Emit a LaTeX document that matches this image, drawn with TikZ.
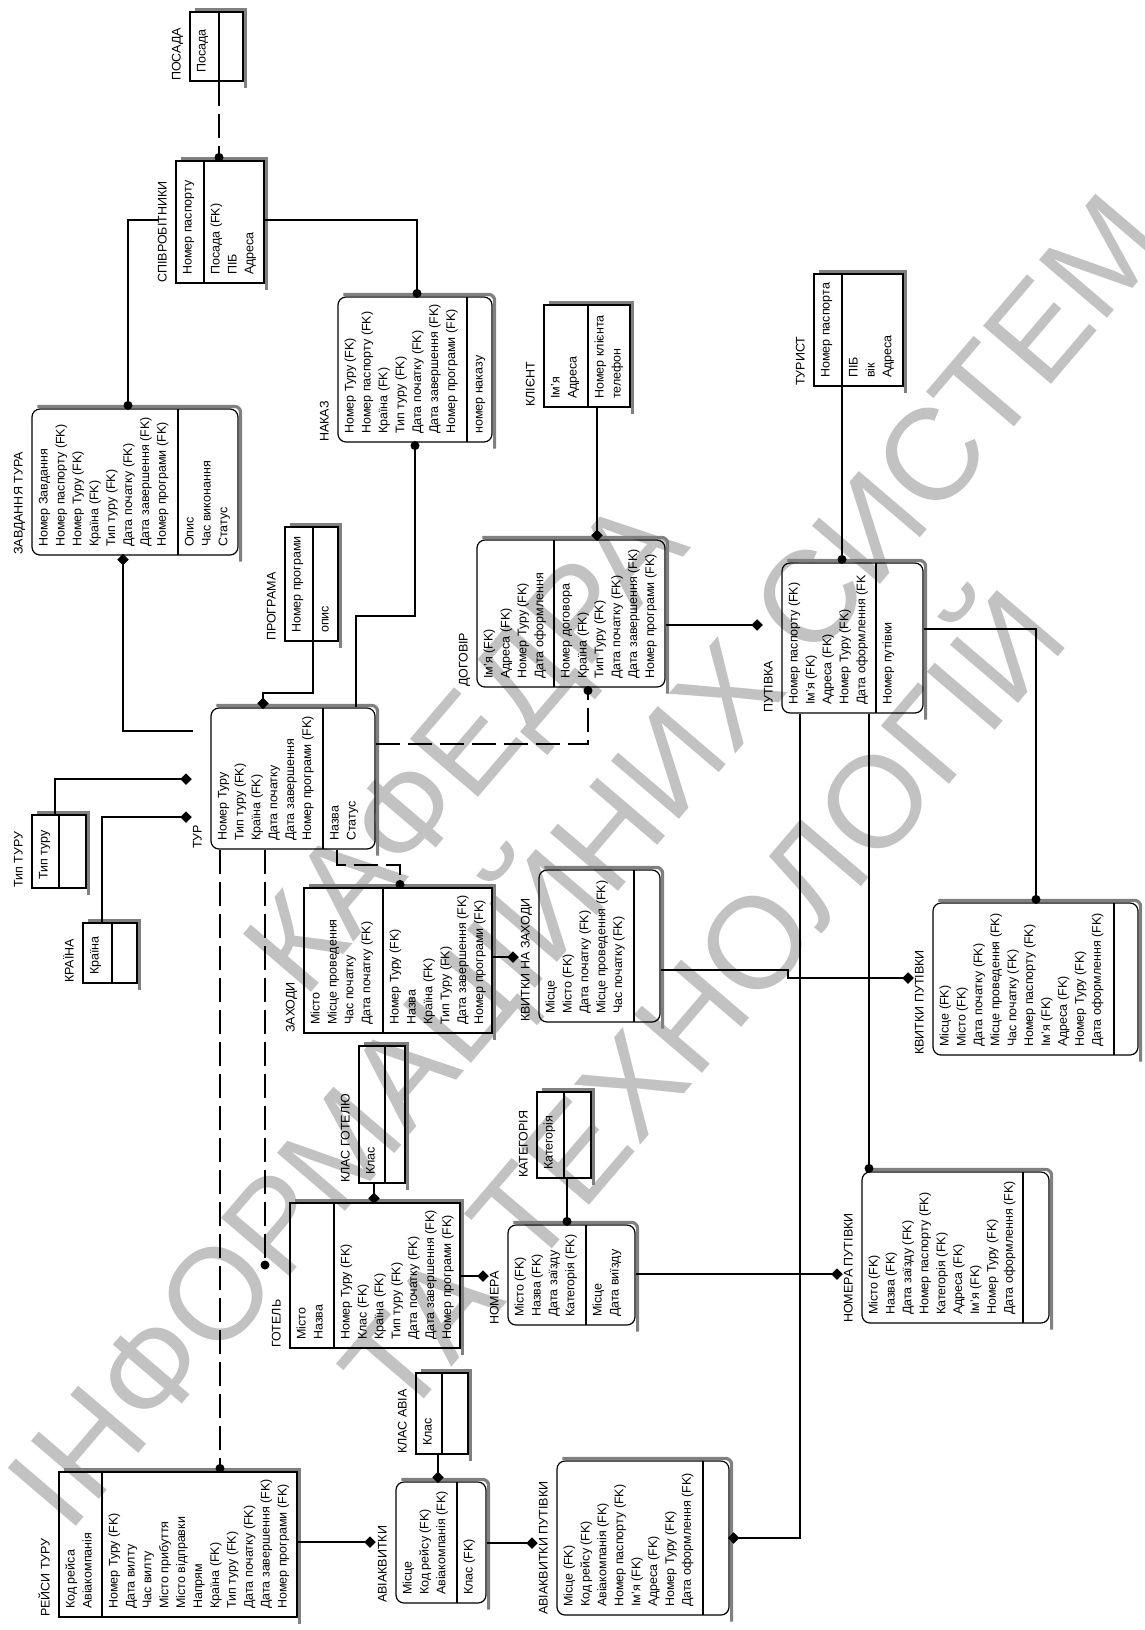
\documentclass[tikz,border=0pt]{standalone}
\usepackage{fontspec}
\setmainfont{Liberation Sans}
\usetikzlibrary{shapes.geometric,fit,calc}
\tikzset{
  boxline/.style={line width=1.2pt},
  sq/.style={draw, line width=1.2pt, inner sep=0pt, rectangle},
  rnd/.style={sq, rounded corners=8pt},
  sqs/.style={},
  rnds/.style={rounded corners=6pt},
  shad/.style={line width=3.2pt, draw=black!50},
  attr/.style={rotate=90, anchor=mid west, inner sep=0pt, font=\fontsize{12.5}{14}\selectfont},
  rel/.style={line width=1.2pt},
  nid/.style={rel, dash pattern=on 24pt off 8pt},
  dot/.style={circle, fill, inner sep=0pt, minimum size=9pt},
  dia/.style={diamond, fill, inner sep=0pt, minimum size=12pt},
  wm/.style={text=black!24, rotate=49.5, inner sep=0pt, font=\fontsize{130}{130}\selectfont}
}
% #1 name, #2 style, #3 x1, #4 y1, #5 x2, #6 y2, #7 divider x, #8 title, #9 key attributes
\newcommand\E[9]{%
  \node[#2, fit={(#3,#4) (#5,#6)}] (#1) {};
  \draw[shad,#2s] ([xshift=6pt,yshift=2pt]#1.north west) -- ([xshift=2pt,yshift=2pt]#1.north east) -- ([xshift=2pt,yshift=-6pt]#1.south east);
  \draw[boxline] (#7,#4) -- (#7,#6);
  \node[attr] (#1-t) at (#3-12,#6) {#8};
  \foreach \attrtext [count=\i from 0] in {#9} {\node[attr] at (#3+13+\i*16.9,#6-8) {\attrtext};}
}
% non-key attributes: #1 divider x, #2 y2, #3 list
\newcommand\NK[3]{\foreach \attrtext [count=\i from 0] in {#3} {\node[attr] at (#1+13+\i*16.9,#2-8) {\attrtext};}}
\begin{document}
\begin{tikzpicture}[x=1pt,y=-1pt]
\useasboundingbox (0,0) rectangle (1145,1630);
% watermark
\node[wm] (wm1) at (474,753) {КАФЕДРА};
\node[wm] (wm2) at (585,860) {ІНФОРМАЦІЙНИХ СИСТЕМ};
\node[wm] (wm3) at (693,995) {ТА ТЕХНОЛОГІЙ};

% entities
\E{pos}{sq}{190}{12}{243}{81}{219}{ПОСАДА}{Посада}
\E{spiv}{sq}{176}{161}{264}{283}{204}{СПІВРОБІТНИКИ}{Номер паспорту}
\NK{204}{283}{Посада (FK), ПІБ, Адреса}
\E{zav}{rnd}{32}{409}{238}{555}{178}{ЗАВДАННЯ ТУРА}{Номер Завдання, Номер паспорту (FK), Номер Туру (FK), Країна (FK), Тип туру (FK), Дата початку (FK), Дата завершення (FK), Номер програми (FK)}
\NK{178}{555}{Опис, Час виконання, Статус}
\E{nak}{rnd}{338}{297}{492}{442}{467}{НАКАЗ}{Номер Туру (FK), Номер паспорту (FK), Країна (FK), Тип туру (FK), Дата початку (FK), Дата завершення (FK), Номер програми (FK)}
\NK{467}{442}{номер наказу}
\E{kl}{sq}{544}{305}{630}{407}{588}{КЛІЄНТ}{Ім’я, Адреса}
\NK{588}{407}{Номер клієнта, телефон}
\E{tst}{sq}{814}{274}{903}{386}{842}{ТУРИСТ}{Номер паспорта}
\NK{842}{386}{ПІБ, вік, Адреса}
\E{dog}{rnd}{477}{540}{665}{687}{554}{ДОГОВІР}{Ім’я (FK), Адреса (FK), Номер Туру (FK), Дата оформлення}
\NK{554}{687}{Номер договора, Країна (FK), Тип Туру (FK), Дата початку (FK), Дата завершення (FK), Номер програми (FK)}
\E{put}{rnd}{782}{563}{923}{713}{876}{ПУТІВКА}{Номер паспорту (FK), Ім’я (FK), Адреса (FK), Номер Туру (FK), Дата оформлення (FK}
\NK{876}{713}{Номер путівки}
\E{prog}{sq}{285}{527}{338}{641}{313}{ПРОГРАМА}{Номер програми}
\NK{313}{641}{опис}
\E{tur}{rnd}{211}{708}{375}{849}{323}{ТУР}{Номер Туру, Тип туру (FK), Країна (FK), Дата початку, Дата завершення, Номер програми (FK)}
\NK{323}{849}{Назва, Статус}
\E{tip}{sq}{32}{815}{86}{888}{59}{Тип ТУРУ}{Тип туру}
\E{kr}{sq}{83}{923}{137}{983}{112}{КРАЇНА}{Країна}
\E{zah}{sq}{304}{888}{492}{1033}{383}{ЗАХОДИ}{Місто, Місце проведення, Час початку, Дата початку (FK)}
\NK{383}{1033}{Номер Туру (FK), Назва, Країна (FK), Тип Туру (FK), Дата завершення (FK), Номер програми (FK)}
\E{kvz}{rnd}{539}{870}{660}{1022}{634}{КВИТКИ НА ЗАХОДИ}{Місце, Місто (FK), Дата початку (FK), Місце проведення (FK), Час початку (FK)}
\E{kp}{rnd}{933}{903}{1138}{1055}{1114}{КВИТКИ ПУТІВКИ}{Місце (FK), Місто (FK), Дата початку (FK), Місце проведення (FK), Час початку (FK), Номер паспорту (FK), Ім’я (FK), Адреса (FK), Номер Туру (FK), Дата оформлення (FK)}
\E{kg}{sq}{359}{1046}{405}{1183}{385}{КЛАС ГОТЕЛЮ}{Клас}
\E{kat}{sq}{537}{1092}{591}{1178}{564}{КАТЕГОРІЯ}{Категорія}
\E{got}{sq}{290}{1203}{460}{1348}{334}{ГОТЕЛЬ}{Місто, Назва}
\NK{334}{1348}{Номер Туру (FK), Клас (FK), Країна (FK), Тип туру (FK), Дата початку (FK), Дата завершення (FK), Номер програми (FK)}
\E{nom}{rnd}{508}{1225}{635}{1325}{586}{НОМЕРА}{Місто (FK), Назва (FK), Дата заїзду, Категорія (FK)}
\NK{586}{1325}{Місце, Дата виїзду}
\E{np}{rnd}{862}{1172}{1049}{1323}{1023}{НОМЕРА ПУТІВКИ}{Місто (FK), Назва (FK), Дата заїзду (FK), Номер паспорту (FK), Категорія (FK), Адреса (FK), Ім’я (FK), Номер Туру (FK), Дата оформлення (FK)}
\E{ka}{sq}{416}{1373}{468}{1454}{442}{КЛАС АВІА}{Клас}
\E{av}{rnd}{396}{1482}{486}{1603}{457}{АВІАКВИТКИ}{Місце, Код рейсу (FK), Авіакомпанія (FK)}
\NK{457}{1603}{Клас (FK)}
\E{avp}{rnd}{557}{1461}{729}{1615}{703}{АВІАКВИТКИ ПУТІВКИ}{Місце (FK), Код рейсу (FK), Авіакомпанія (FK), Номер паспорту (FK), Ім’я (FK), Адреса (FK), Номер Туру (FK), Дата оформлення (FK)}
\E{rey}{sq}{59}{1472}{297}{1617}{102}{РЕЙСИ ТУРУ}{Код рейса, Авіакомпанія}
\NK{102}{1617}{Номер Туру (FK), Дата вилту, Час вилту, Місто прибуття, Місто відправки, Напрям, Країна (FK), Тип туру (FK), Дата початку (FK), Дата завершення (FK), Номер програми (FK)}

% free connector ends
\coordinate (cZT) at (193,731);
\coordinate (dTip) at (186,779);
\coordinate (dKr) at (186,817);
\coordinate (dPut) at (757,625);
\coordinate (dKvz) at (513,957);
\coordinate (dKp) at (908,978);
\coordinate (cGot) at (265,1265);
\coordinate (dNom) at (483,1276);
\coordinate (dNp) at (837,1274);
\coordinate (dAv) at (370,1542);
\coordinate (dAvp) at (532,1543);

% connectors
\draw[nid] (219,0 |- pos.south) -- (219,0 |- spiv.north) node[dot,yshift=3pt]{};
\draw[rel] (spiv-t.north |- 0,220) -| (128,0 |- zav.north) node[dot,yshift=3pt]{};
\draw[rel] (spiv.east |- 0,220) -| (417,0 |- nak.north) node[dot,yshift=3pt]{};
\draw[rel] (356,0 |- tur.north) |- (415,616) -- (415,0 |- nak.south) node[dot,yshift=-3pt]{};
\draw[rel] (123,0 |- zav.south) node[dia,yshift=-4pt]{} |- (cZT);
\draw[rel] (313,0 |- prog.south) |- (263,693) -- (263,0 |- tur.north) node[dia,yshift=4pt]{};
\draw[rel] (55,0 |- tip.north) |- (dTip) node[dia]{};
\draw[rel] (102,0 |- kr.north) |- (dKr) node[dia]{};
\draw[nid] (tur.east |- 0,744) -| (588,0 |- dog.south) node[dot,yshift=-3pt]{};
\draw[rel] (597,0 |- kl.south) -- (597,0 |- dog.north) node[dia,yshift=4pt]{};
\draw[rel] (dog.east |- dPut) -- (dPut) node[dia]{};
\draw[rel] (842,0 |- tst.south) -- (842,0 |- put.north) node[dot,yshift=3pt]{};
\draw[rel] (put.east |- 0,629) -| (1036,0 |- kp.north) node[dot,yshift=3pt]{};
\draw[rel] (869,0 |- put.south) -- (869,0 |- np.north) node[dot,yshift=3pt]{};
\draw[rel] (800,0 |- put.south) |- (avp.east |- 0,1538) node[dia,xshift=4pt]{};
\draw[nid] (337,0 |- tur.south) |- (400,865) -- (400,0 |- zah.north) node[dot,yshift=3pt]{};
\draw[rel] (zah.east |- dKvz) -- (dKvz) node[dia]{};
\draw[rel] (kvz.east |- 0,970) -- (788,970) -- (788,978) -- (dKp) node[dia]{};
\draw[nid] (265,0 |- tur.south) -- (cGot) node[dot]{};
\draw[nid] (220,0 |- tur.south) -- (220,0 |- rey.north) node[dot,yshift=3pt]{};
\draw[rel] (374,0 |- kg.south) -- (374,0 |- got.north) node[dia,yshift=4pt]{};
\draw[rel] (got.east |- dNom) -- (dNom) node[dia]{};
\draw[rel] (567,0 |- kat.south) -- (567,0 |- nom.north) node[dot,yshift=3pt]{};
\draw[rel] (nom.east |- dNp) -- (dNp) node[dia]{};
\draw[rel] (438,0 |- ka.south) -- (438,0 |- av.north) node[dia,yshift=4pt]{};
\draw[rel] (rey.east |- dAv) -- (dAv) node[dia]{};
\draw[rel] (av.east |- dAvp) -- (dAvp) node[dia]{};
\end{tikzpicture}
\end{document}
